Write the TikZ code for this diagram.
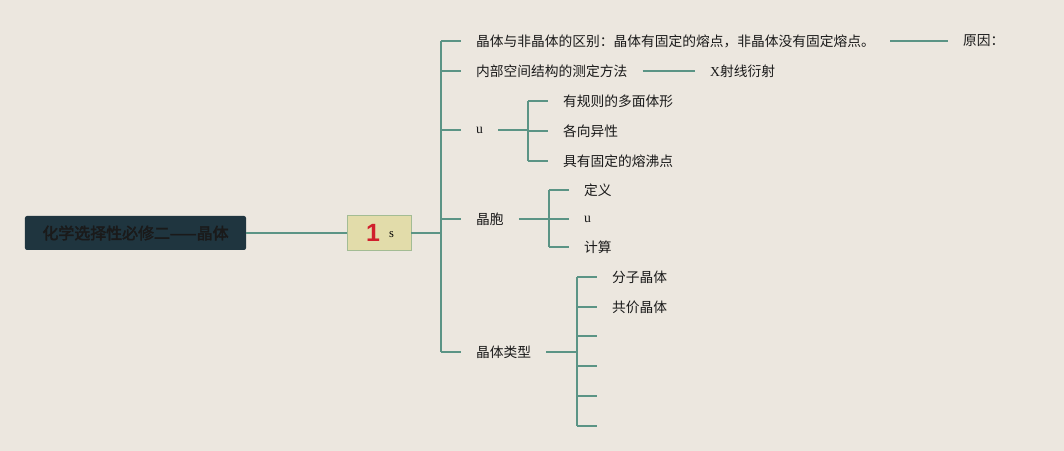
\documentclass[tikz,border=0pt]{standalone}
\usepackage{fontspec}
\setmainfont{Liberation Serif}
\newfontfamily\cjk{Noto Sans CJK SC}
\newfontfamily\cjkb[FakeBold=2.5]{Noto Sans CJK SC}
\newfontfamily\numf{Liberation Sans}
\definecolor{bg}{HTML}{ECE7DF}
\definecolor{ln}{HTML}{5B9485}
\definecolor{rootfill}{HTML}{1F353F}
\definecolor{boxfill}{HTML}{E2DCAA}
\definecolor{boxedge}{HTML}{A3BC94}
\definecolor{txt}{HTML}{1A1A1A}
\definecolor{redone}{HTML}{D01F2C}
\begin{document}
\begin{tikzpicture}[x=1bp,y=-1bp,
  conn/.style={draw=ln,line width=1.6bp},
  lbl/.style={anchor=west,inner xsep=15bp,inner ysep=2bp,text=txt,font=\fontsize{13.8}{16}\selectfont\cjk},
  latin/.style={font=\fontsize{13.8}{16}\selectfont},
  ]
\fill[bg] (0,0) rectangle (1064,451);
\useasboundingbox (0,0) rectangle (1064,451);

\node[fill=rootfill,rounded corners=2bp,minimum width=221bp,minimum height=34bp,
  text=txt,font=\fontsize{16}{18}\selectfont\cjkb] (root) at (135.5,233) {化学选择性必修二——晶体};
\node[fill=boxfill,draw=boxedge,line width=0.8bp,minimum width=64bp,minimum height=35bp,inner sep=0pt] (c) at (379,233)
  {\hspace{2bp}{\fontsize{25}{25}\selectfont\numf\bfseries\color{redone}1}\hspace{9bp}\raisebox{4bp}{\fontsize{12.5}{12}\selectfont s}};

\coordinate (j1) at (441,233);

\node[lbl] (n1) at (461,41) {晶体与非晶体的区别：晶体有固定的熔点，非晶体没有固定熔点。};
\node[lbl] (n1a) at (948,41) {原因：};
\node[lbl] (n2) at (461,71) {内部空间结构的测定方法};
\node[lbl] (n2a) at (695,71) {\rmfamily X\cjk 射线衍射};
\node[lbl,latin] (n3) at (461,130) {u};
\node[lbl] (n4) at (461,219) {晶胞};
\node[lbl] (n5) at (461,352) {晶体类型};

\draw[conn] (root.east) -- (c.west);
\draw[conn] (c.east) -- (j1);
\draw[conn] (j1 |- n1.west) -- (j1 |- n5.west);
\foreach \n in {n1,n2,n3,n4,n5} \draw[conn] (j1 |- \n.west) -- (\n.west);
\draw[conn] (n1.east) -- (n1.east -| n1a.west);
\draw[conn] (n2.east) -- (n2.east -| n2a.west);

% branch u
\coordinate (j3) at (528,130);
\node[lbl] (n31) at (548,101) {有规则的多面体形};
\node[lbl] (n32) at (548,131) {各向异性};
\node[lbl] (n33) at (548,161) {具有固定的熔沸点};
\draw[conn] (n3.east) -- (n3.east -| j3);
\draw[conn] (j3 |- n31.west) -- (j3 |- n33.west);
\foreach \n in {n31,n32,n33} \draw[conn] (j3 |- \n.west) -- (\n.west);

% branch cell
\coordinate (j4) at (549,219);
\node[lbl] (n41) at (569,190) {定义};
\node[lbl,latin] (n42) at (569,219) {u};
\node[lbl] (n43) at (569,247) {计算};
\draw[conn] (n4.east) -- (n4.east -| j4);
\draw[conn] (j4 |- n41.west) -- (j4 |- n43.west);
\foreach \n in {n41,n42,n43} \draw[conn] (j4 |- \n.west) -- (\n.west);

% branch types
\coordinate (j5) at (577,352);
\node[lbl] (n51) at (597,277) {分子晶体};
\node[lbl] (n52) at (597,307) {共价晶体};
\coordinate (e3) at (597,336);
\coordinate (e4) at (597,366);
\coordinate (e5) at (597,396);
\coordinate (e6) at (597,426);
\draw[conn] (n5.east) -- (n5.east -| j5);
\draw[conn] (j5 |- n51.west) -- (j5 |- e6);
\foreach \n in {n51,n52} \draw[conn] (j5 |- \n.west) -- (\n.west);
\foreach \n in {e3,e4,e5,e6} \draw[conn] (j5 |- \n) -- (\n);
\end{tikzpicture}
\end{document}
